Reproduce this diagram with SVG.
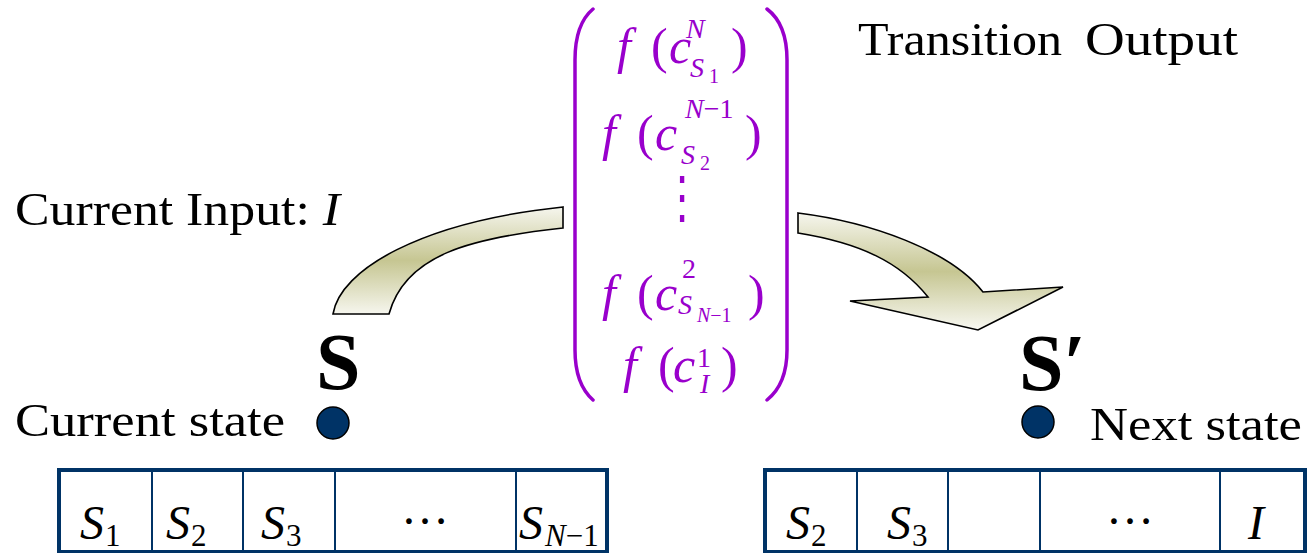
<svg xmlns="http://www.w3.org/2000/svg" width="1310" height="553" viewBox="0 0 1310 553" font-family="'Liberation Serif', 'Times New Roman', Times, serif">
<style>
text{font-family:'Liberation Serif','Times New Roman',Times,serif;fill:#000}
.lbl{font-size:47px}
.it{font-style:italic}
.m{fill:#9900cc;font-size:50px}
.sup{font-size:28px}
.ss{font-size:20px}
.cell{font-size:48px}
.sub{font-size:31px}
.big{font-size:80px;font-weight:bold}
.brk{fill:none;stroke:#9900cc;stroke-width:3.5;stroke-linecap:round}
.arrow{stroke:#000;stroke-width:1.6;stroke-linejoin:miter}
.dot{fill:#003366;stroke:#000;stroke-width:1.5}
.outer{fill:#fff;stroke:#003366;stroke-width:4}
.div{stroke:#003366;stroke-width:2}
</style>
<defs>
<linearGradient id="g1" x1="0" y1="0" x2="0" y2="1">
<stop offset="0" stop-color="#f6f6ee"/>
<stop offset="0.5" stop-color="#c6c692"/>
<stop offset="1" stop-color="#f6f6ee"/>
</linearGradient>
<linearGradient id="g2" x1="0" y1="0" x2="0" y2="1">
<stop offset="0" stop-color="#f6f6ee"/>
<stop offset="0.5" stop-color="#c6c692"/>
<stop offset="1" stop-color="#f8f8f2"/>
</linearGradient>
</defs>

<g id="connectors">
<path class="arrow" fill="url(#g1)" d="M333 314 C340 270 420 222 563 207 L563 228 C470 238 405 255 389 314 Z"/>
<path class="arrow" fill="url(#g2)" d="M798 213 C870 222 950 250 983 292 L1063 287 L978 330 L850 301 L928 297 C900 262 860 243 798 233 Z"/>
</g>

<g id="transition-output">
<path class="brk" d="M593 9 Q575 24 575 60 L575 350 Q575 384 593 400"/>
<path class="brk" d="M767 9 Q787 24 787 60 L787 350 Q787 384 767 400"/>
<text class="m"><tspan x="617" y="63" class="it">f</tspan><tspan x="651" y="63">(</tspan><tspan x="669" y="63" class="it">c</tspan><tspan x="686" y="38" class="sup it">N</tspan><tspan x="690" y="77" class="sup it">S</tspan><tspan x="709" y="83" class="ss">1</tspan><tspan x="731" y="63">)</tspan></text>

<text class="m"><tspan x="602" y="150" class="it">f</tspan><tspan x="637" y="150">(</tspan><tspan x="655" y="150" class="it">c</tspan><tspan x="685" y="118" class="sup it">N</tspan><tspan class="sup">−1</tspan><tspan x="681" y="164" class="sup it">S</tspan><tspan x="700" y="170" class="ss">2</tspan><tspan x="745" y="150">)</tspan></text>

<g transform="translate(682,216) scale(1,1.35)">
<text class="m" x="0" y="0" text-anchor="middle" style="font-family:'DejaVu Serif',serif;font-size:42px">⋮</text>
</g>

<text class="m"><tspan x="602" y="310" class="it">f</tspan><tspan x="637" y="310">(</tspan><tspan x="655" y="310" class="it">c</tspan><tspan x="682" y="278" class="sup">2</tspan><tspan x="678" y="314" class="sup it">S</tspan><tspan x="697" y="322" class="ss it">N</tspan><tspan class="ss">−1</tspan><tspan x="748" y="310">)</tspan></text>

<text class="m"><tspan x="623" y="382" class="it">f</tspan><tspan x="658" y="382">(</tspan><tspan x="673" y="382" class="it">c</tspan><tspan x="697" y="367" class="sup">1</tspan><tspan x="700" y="393" class="sup it">I</tspan><tspan x="721" y="382">)</tspan></text>

<text class="lbl" x="858" y="55" textLength="204" lengthAdjust="spacingAndGlyphs">Transition</text>
<text class="lbl" x="1085" y="55" textLength="153" lengthAdjust="spacingAndGlyphs">Output</text>
</g>

<g id="current-input">
<text class="lbl" x="15" y="225" textLength="325" lengthAdjust="spacingAndGlyphs">Current Input: <tspan class="it">I</tspan></text>
</g>

<g id="current-state">
<text class="big" x="316" y="389">S</text>
<circle class="dot" cx="333" cy="423" r="16"/>
<text class="lbl" x="15" y="436" textLength="270" lengthAdjust="spacingAndGlyphs">Current state</text>
</g>

<g id="next-state">
<text class="big" x="1019" y="390">S′</text>
<circle class="dot" cx="1038" cy="422" r="16"/>
<text class="lbl" x="1090" y="440" textLength="212" lengthAdjust="spacingAndGlyphs">Next state</text>
</g>

<g id="current-register">
<rect class="outer" x="59" y="470" width="548" height="82"/>
<line class="div" x1="152" y1="470" x2="152" y2="552"/>
<line class="div" x1="243" y1="470" x2="243" y2="552"/>
<line class="div" x1="335" y1="470" x2="335" y2="552"/>
<line class="div" x1="516" y1="470" x2="516" y2="552"/>
<text class="cell it" x="80" y="539">S<tspan class="sub" font-style="normal" dx="1" dy="7">1</tspan></text>
<text class="cell it" x="166" y="539">S<tspan class="sub" font-style="normal" dx="1" dy="7">2</tspan></text>
<text class="cell it" x="261" y="539">S<tspan class="sub" font-style="normal" dx="1" dy="7">3</tspan></text>
<text class="cell" x="425" y="524" text-anchor="middle">…</text>
<text class="cell it" x="519" y="539">S<tspan class="sub" dx="2" dy="7">N</tspan><tspan class="sub" font-style="normal">−1</tspan></text>
</g>

<g id="next-register">
<rect class="outer" x="765" y="470" width="540" height="82"/>
<line class="div" x1="857" y1="470" x2="857" y2="552"/>
<line class="div" x1="948" y1="470" x2="948" y2="552"/>
<line class="div" x1="1040" y1="470" x2="1040" y2="552"/>
<line class="div" x1="1220" y1="470" x2="1220" y2="552"/>
<text class="cell it" x="786" y="539">S<tspan class="sub" font-style="normal" dx="1" dy="7">2</tspan></text>
<text class="cell it" x="887" y="539">S<tspan class="sub" font-style="normal" dx="1" dy="7">3</tspan></text>
<text class="cell" x="1130" y="524" text-anchor="middle">…</text>
<text class="cell it" x="1248" y="539">I</text>
</g>
</svg>
